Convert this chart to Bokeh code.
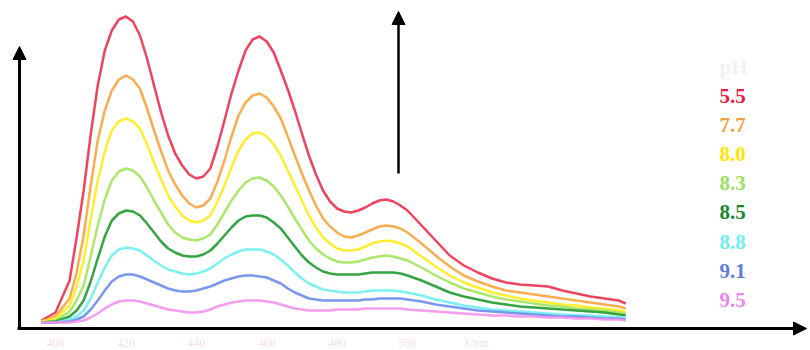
from bokeh.plotting import figure
from bokeh.models import Range1d, Arrow, NormalHead, ColumnDataSource
from bokeh.core.properties import value
from bokeh.embed import file_html
from bokeh.resources import INLINE

# wavelength grid (nm)
wavelength = [396, 400] + list(range(404, 501, 2)) + list(range(504, 561, 4)) + [562]

ph_labels = ["5.5", "7.7", "8.0", "8.3", "8.5", "8.8", "9.1", "9.5"]

i_55 = [2, 10, 42, 85, 132, 188, 237, 272, 292, 303, 306, 301, 287, 264, 237, 210, 187, 169, 157, 148,
        144, 146, 154, 176, 202, 229, 252, 272, 283, 286, 281, 270, 252, 233, 212, 189, 167, 148, 132, 121,
        114, 111, 110, 112, 115, 119, 122, 123, 121, 117, 112, 97, 82, 67, 57, 50, 44, 40, 38, 37, 36, 32,
        29, 26, 24, 22, 19]
i_77 = [1, 6, 24, 50, 87, 137, 182, 212, 232, 243, 247, 243, 234, 214, 192, 171, 152, 138, 127, 119,
        115, 117, 124, 141, 162, 186, 207, 220, 227, 229, 225, 216, 204, 186, 167, 149, 132, 117, 104, 96,
        90, 86, 85, 87, 90, 93, 96, 97, 96, 94, 90, 79, 67, 56, 47, 41, 36, 32, 30, 28, 26, 24, 22, 20, 18,
        16, 14]
i_80 = [1, 4, 17, 36, 62, 103, 142, 171, 192, 201, 204, 201, 194, 178, 160, 143, 127, 116, 107, 102,
        100, 102, 107, 121, 137, 155, 172, 183, 189, 190, 186, 178, 167, 152, 137, 122, 107, 95, 85, 79,
        74, 72, 72, 73, 76, 79, 81, 82, 81, 79, 76, 66, 56, 47, 40, 35, 30, 27, 24, 22, 20, 18, 17, 15, 14,
        12, 11]
i_83 = [0, 2, 11, 22, 37, 66, 97, 123, 142, 151, 154, 152, 146, 135, 122, 110, 98, 90, 85, 83,
        82, 84, 88, 98, 110, 122, 132, 140, 144, 145, 142, 136, 127, 116, 104, 93, 82, 74, 68, 64,
        61, 60, 60, 61, 63, 65, 66, 67, 66, 64, 62, 55, 47, 40, 34, 30, 26, 23, 21, 19, 17, 16, 14, 13, 12,
        10, 9]
i_85 = [0, 1, 6, 12, 22, 41, 64, 86, 102, 109, 112, 111, 107, 99, 90, 81, 74, 70, 67, 66,
        66, 68, 72, 79, 87, 95, 102, 106, 107, 107, 105, 100, 94, 85, 76, 67, 60, 55, 51, 49,
        48, 48, 48, 48, 49, 50, 50, 50, 50, 49, 47, 42, 36, 30, 26, 23, 20, 18, 16, 15, 14, 13, 12, 11, 10,
        8, 7]
i_88 = [0, 0, 3, 6, 12, 24, 40, 55, 67, 73, 75, 74, 72, 67, 62, 57, 53, 51, 49, 48,
        49, 51, 54, 59, 64, 68, 71, 73, 73, 73, 71, 68, 63, 57, 50, 44, 39, 36, 33, 32,
        31, 30, 30, 30, 31, 32, 32, 32, 32, 31, 30, 27, 23, 20, 17, 15, 13, 12, 11, 10, 9, 8, 7, 7, 6, 5, 5]
i_91 = [0, 0, 1, 3, 6, 13, 22, 32, 41, 46, 48, 48, 46, 43, 40, 37, 34, 32, 31, 31,
        32, 34, 36, 39, 42, 44, 46, 47, 47, 46, 45, 42, 39, 34, 30, 27, 24, 23, 22, 22,
        22, 22, 22, 22, 23, 23, 24, 24, 24, 24, 23, 21, 18, 16, 14, 12, 11, 10, 9, 8, 7, 6, 6, 5, 4, 4, 3]
i_95 = [0, 0, 0, 1, 2, 5, 9, 14, 18, 21, 22, 22, 21, 19, 17, 15, 13, 12, 11, 10,
        10, 11, 13, 16, 18, 20, 21, 22, 22, 22, 21, 20, 18, 16, 14, 13, 12, 12, 12, 12,
        13, 13, 13, 13, 14, 14, 14, 14, 14, 14, 13, 12, 11, 10, 9, 8, 7, 7, 6, 6, 5, 5, 4, 4, 3, 3, 2]

series = [i_55, i_77, i_80, i_83, i_85, i_88, i_91, i_95]
line_colors = ["#ee2f4f", "#f7a43e", "#ffec1a", "#a2e45a", "#1f9a2e", "#6ff0f0", "#6a8cec", "#f392ec"]
text_colors = ["#e8203e", "#f5a040", "#ffe600", "#9ee060", "#16882a", "#6feeee", "#5c7ce0", "#f084f0"]

tick_values = [400, 420, 440, 460, 480, 500]
tick_labels = ["400", "420", "440", "460", "480", "500"]
axis_unit = "λ/nm"
legend_title = "pH"

W, H = 810, 350
PX_PER_NM = 3.52
X0_PX = 55  # pixel of 400 nm
Y0_PX = 322  # pixel of zero intensity


def xd(px):
    return 400 + (px - X0_PX) / PX_PER_NM


def yd(py):
    return Y0_PX - py


p = figure(width=W, height=H, output_backend="svg", toolbar_location=None,
           x_range=Range1d(xd(0), xd(W)), y_range=Range1d(yd(H), yd(0)),
           min_border=0, x_axis_location=None, y_axis_location=None)
p.grid.visible = False
p.outline_line_color = None
p.background_fill_color = "white"
p.border_fill_color = "white"

for ys, c in zip(series, line_colors):
    p.line(wavelength, ys, line_color=c, line_width=2.5, line_alpha=0.9, line_join="round")

# axes arrows
p.add_layout(Arrow(end=NormalHead(size=13, fill_color="black", line_color="black"),
                   x_start=xd(19), y_start=yd(329), x_end=xd(19), y_end=yd(46),
                   line_width=3, line_color="black"))
p.add_layout(Arrow(end=NormalHead(size=13, fill_color="black", line_color="black"),
                   x_start=xd(17), y_start=yd(328), x_end=xd(806), y_end=yd(328),
                   line_width=3, line_color="black"))
# trend arrow
p.add_layout(Arrow(end=NormalHead(size=13, fill_color="black", line_color="black"),
                   x_start=xd(398), y_start=yd(173), x_end=xd(398), y_end=yd(11),
                   line_width=2.5, line_color="black"))

# faint tick labels
p.text(x=tick_values + [xd(476)], y=[yd(342)] * (len(tick_values) + 1),
       text=tick_labels + [axis_unit], text_align="center", text_baseline="middle",
       text_font=value("Liberation Serif"), text_font_size="12px", text_color="#f5dfea")

# legend texts
leg_x = [xd(719)] * (len(ph_labels) + 1)
leg_y = [yd(66)] + [yd(95 + 29.2 * i) for i in range(len(ph_labels))]
src = ColumnDataSource(dict(x=leg_x, y=leg_y, t=[legend_title] + ph_labels,
                            c=["#f4eff6"] + text_colors))
p.text(x="x", y="y", text="t", text_color="c", source=src, text_align="left",
       text_baseline="middle", text_font=value("Liberation Serif"), text_font_size="21px",
       text_font_style="bold")

open("out.html", "w").write(file_html(p, INLINE))
